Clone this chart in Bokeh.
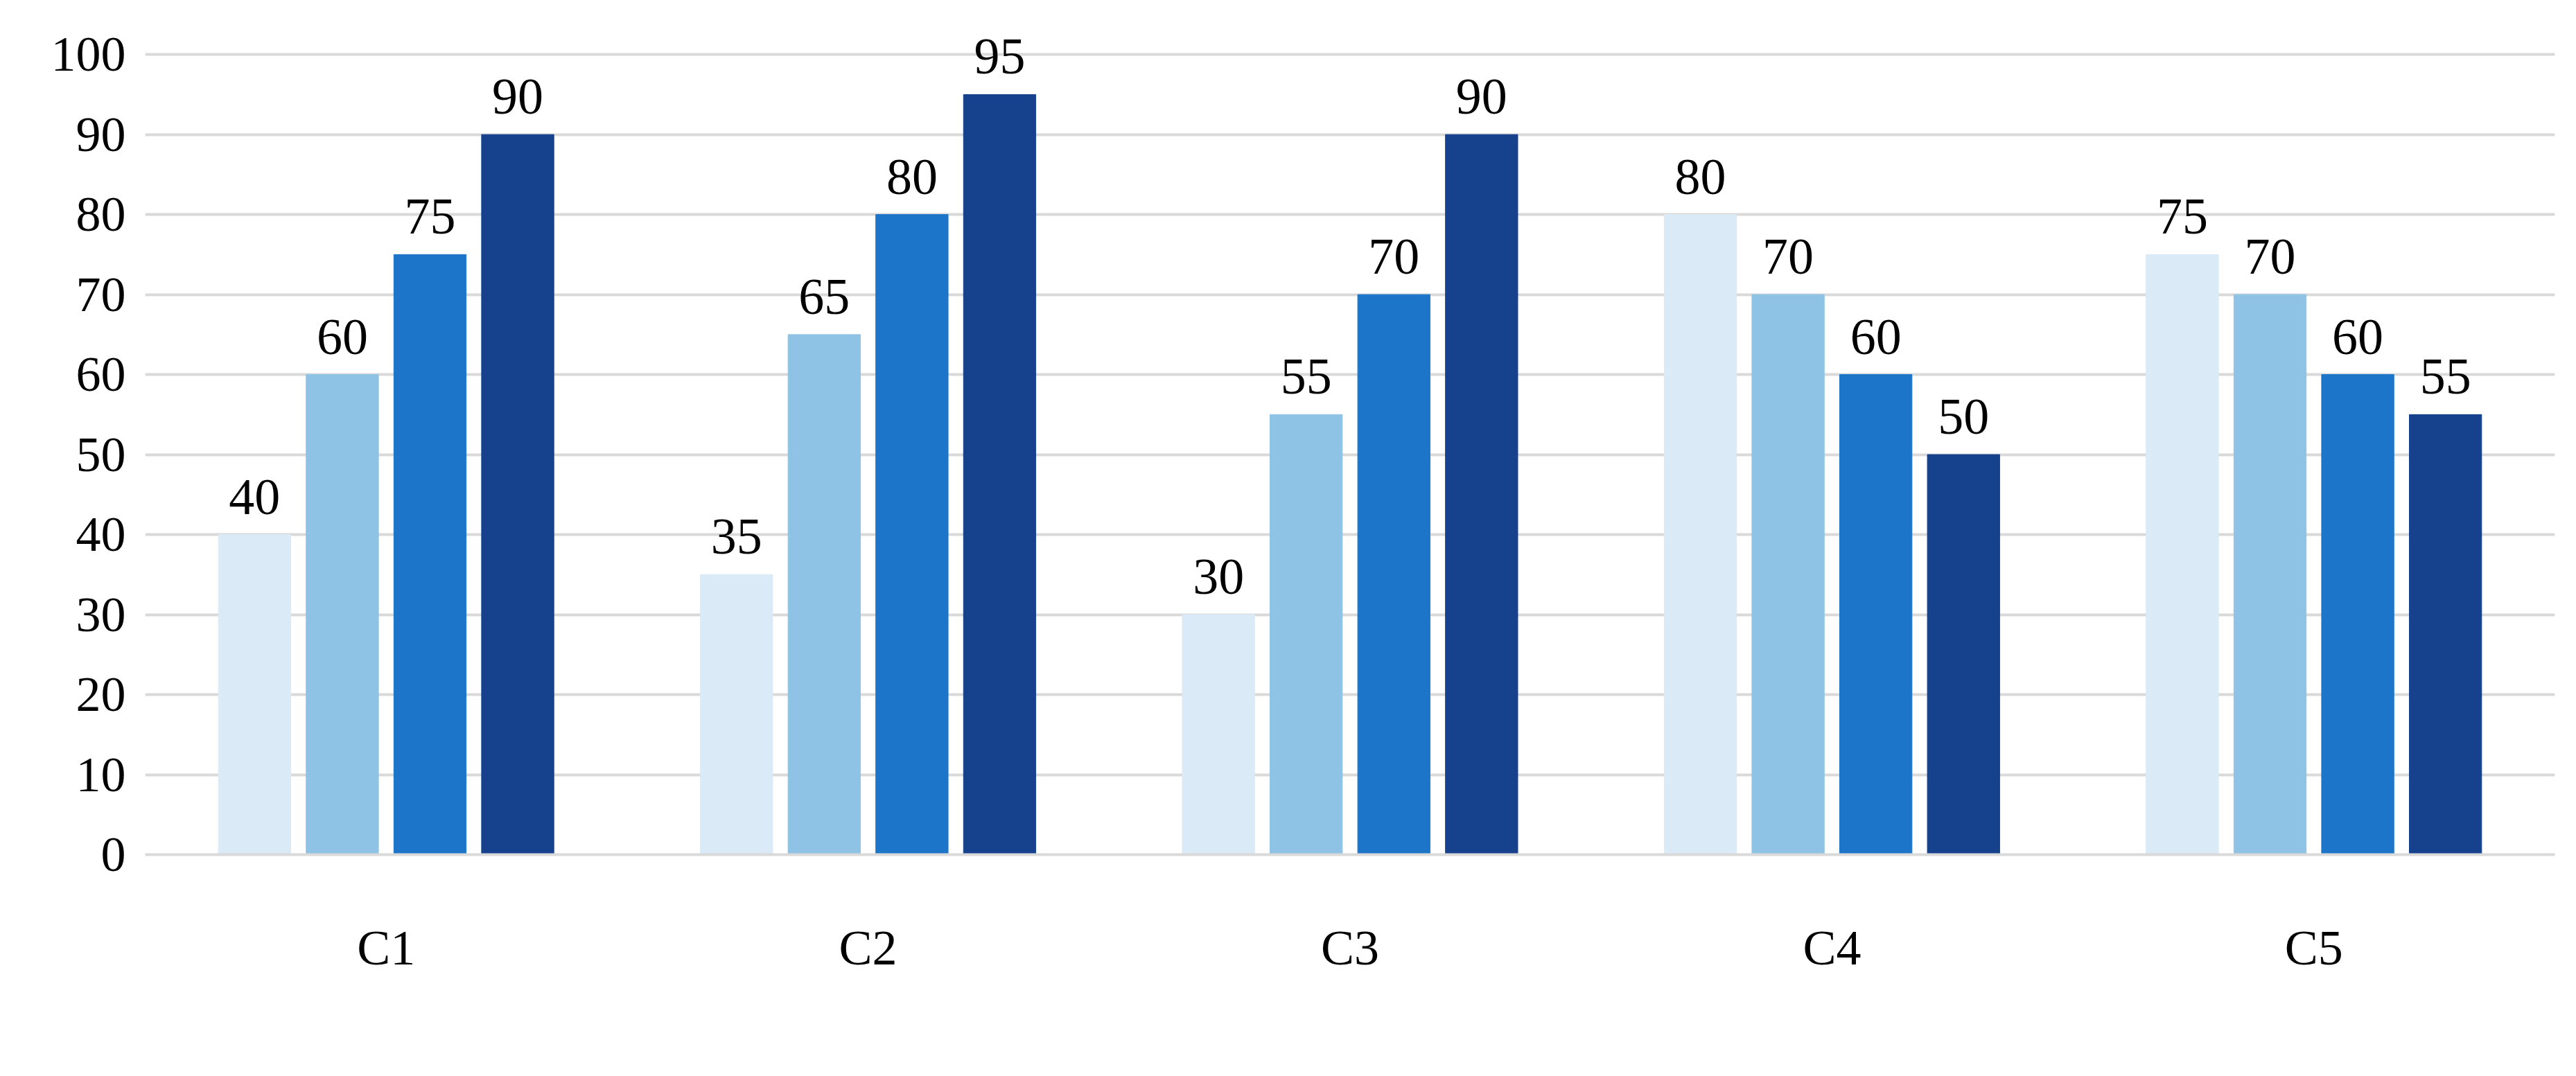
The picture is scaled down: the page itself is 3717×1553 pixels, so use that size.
from bokeh.plotting import figure
from bokeh.models import FixedTicker, Legend, LegendItem, ColumnDataSource
from bokeh.core.properties import value
from bokeh.embed import file_html
from bokeh.resources import INLINE

categories = ["C1", "C2", "C3", "C4", "C5"]
series = ["A1", "A2", "A3", "A4"]
A1 = [40, 35, 30, 80, 75]
A2 = [60, 65, 55, 70, 70]
A3 = [75, 80, 70, 60, 60]
A4 = [90, 95, 90, 50, 55]
colors = ["#DAEAF6", "#8EC3E6", "#1C75C8", "#16418C"]
data = [A1, A2, A3, A4]

FONT = "Liberation Serif"
p = figure(output_backend="svg", toolbar_location=None, width=3700, height=1535,
           x_range=(0.5, 5.5), y_range=(0, 104),
           frame_width=3477, frame_height=1201,
           min_border_left=209, min_border_top=32, min_border_right=14, min_border_bottom=0)
p.outline_line_color = None
p.xgrid.grid_line_color = None
p.ygrid.grid_line_color = "#D9D9D9"
p.ygrid.grid_line_width = 4
p.yaxis.ticker = FixedTicker(ticks=list(range(0, 101, 10)))
p.yaxis.axis_line_color = None
p.yaxis.major_tick_line_color = None
p.yaxis.minor_tick_line_color = None
p.yaxis.major_label_text_font = FONT
p.yaxis.major_label_text_font_size = "72px"
p.yaxis.major_label_text_color = "#000000"
p.yaxis.major_label_standoff = 22
p.xaxis.ticker = FixedTicker(ticks=[1, 2, 3, 4, 5])
p.xaxis.major_label_overrides = {i + 1: c for i, c in enumerate(categories)}
p.xaxis.axis_line_color = "#D9D9D9"
p.xaxis.axis_line_width = 4
p.xaxis.major_tick_line_color = None
p.xaxis.minor_tick_line_color = None
p.xaxis.major_label_text_font = FONT
p.xaxis.major_label_text_font_size = "72px"
p.xaxis.major_label_text_color = "#000000"
p.xaxis.major_label_standoff = 88

items = []
for k, (name, vals, col) in enumerate(zip(series, data, colors)):
    xs = [i + 1 + (k - 1.5) * 0.182 for i in range(len(categories))]
    src = ColumnDataSource(dict(x=xs, top=vals, lab=[str(v) for v in vals]))
    r = p.vbar(x="x", top="top", width=0.15, bottom=0, color=col, source=src)
    p.text(x="x", y="top", text="lab", source=src, text_align="center",
           text_baseline="bottom", y_offset=-30, text_font=value(FONT),
           text_font_size="74px", text_color="#000000")
    items.append(LegendItem(label=name, renderers=[r]))

leg = Legend(items=items, orientation="horizontal", location="center",
             label_text_font=FONT, label_text_font_size="70px",
             glyph_width=42, glyph_height=42, spacing=36, label_standoff=12,
             border_line_color=None, margin=0, padding=8)
p.add_layout(leg, "below")

open("out.html", "w").write(file_html(p, INLINE))
